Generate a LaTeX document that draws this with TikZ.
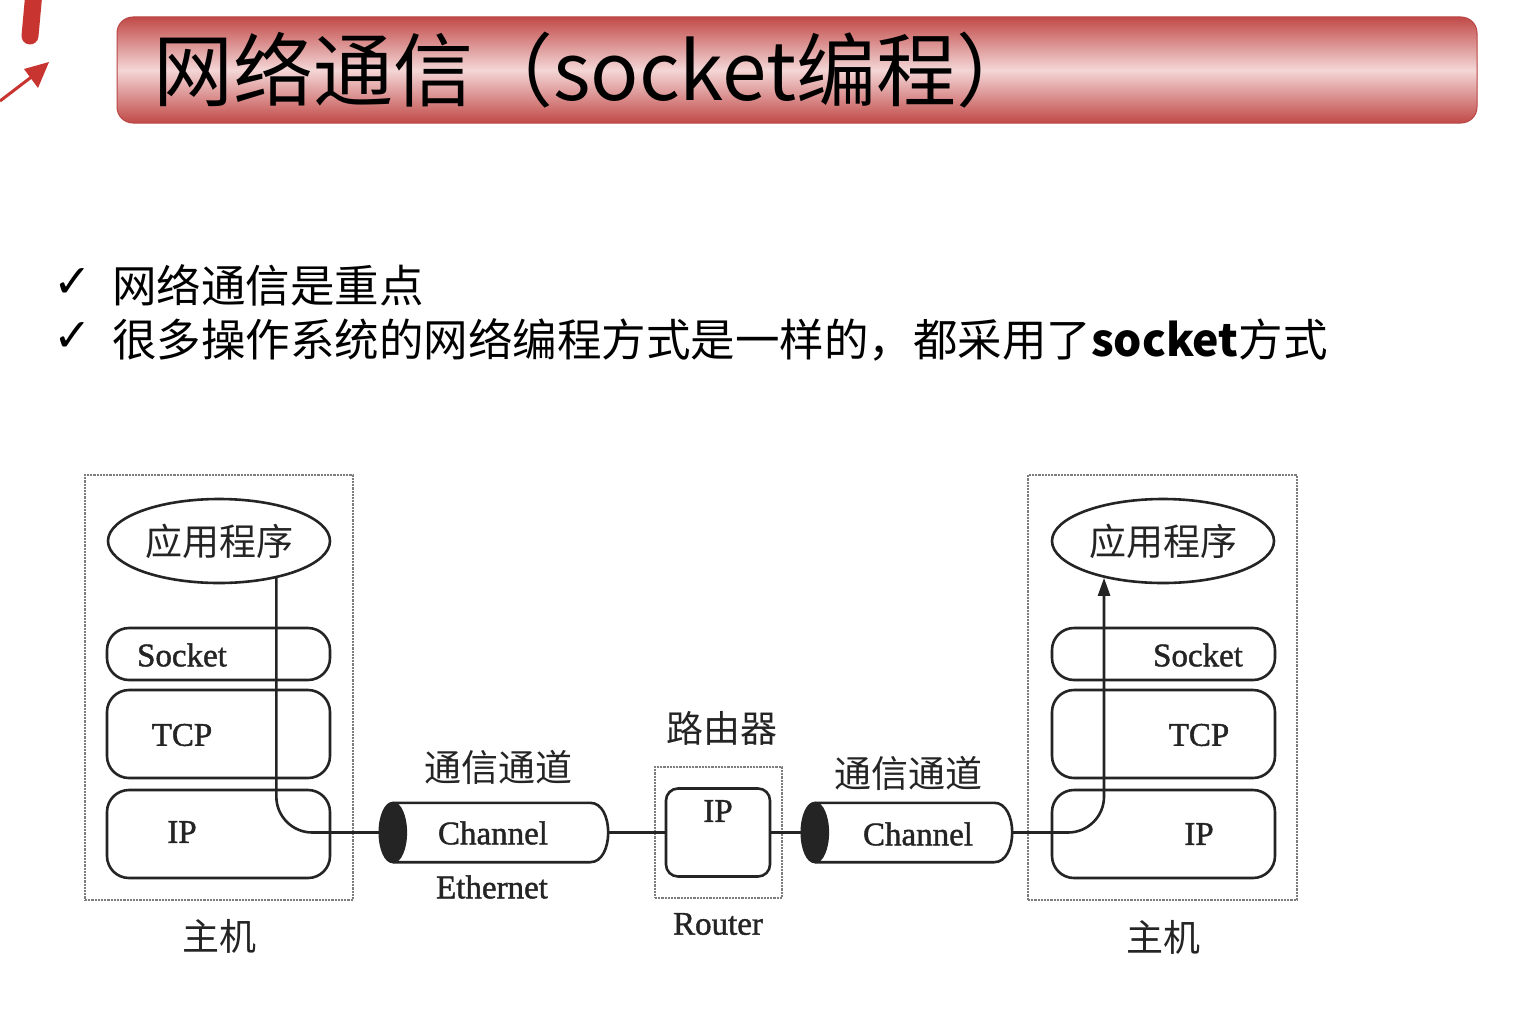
\documentclass[tikz,border=0pt]{standalone}
\usepackage{fontspec}
\setmainfont{Liberation Serif}
\newfontfamily\lblfont[FakeBold=1.3]{Liberation Serif}
\newfontfamily\cjk{Noto Sans CJK SC}
\newfontfamily\dejavu{DejaVu Sans}
\usetikzlibrary{arrows.meta,calc,shapes.geometric}
\definecolor{tred}{RGB}{192,74,72}
\definecolor{tpink}{RGB}{244,214,214}
\definecolor{tborder}{RGB}{185,70,68}
\definecolor{lnc}{RGB}{36,36,36}
\definecolor{dotc}{RGB}{125,125,125}
\definecolor{mred}{RGB}{200,52,48}
\tikzset{
  layer/.style={draw=lnc, line width=2.6pt, rounded corners=22pt, minimum width=223pt, inner sep=0pt},
  app/.style={ellipse, draw=lnc, line width=2.6pt, minimum width=222pt, minimum height=84pt, inner sep=0pt, text=lnc, font=\cjk\fontsize{37}{40}\selectfont},
  hostbox/.style={draw=dotc, densely dotted, line width=2.2pt, inner sep=0pt},
  lbl/.style={font=\lblfont\fontsize{33}{36}\selectfont, text=lnc},
  cjklbl/.style={font=\cjk\fontsize{37}{40}\selectfont, text=lnc},
  conn/.style={draw=lnc, line width=2.6pt},
  chan/.style={inner sep=0pt, minimum height=59pt},
  bullet/.style={anchor=west, inner sep=0pt, font=\cjk\fontsize{44.5}{48}\selectfont},
  check/.style={inner sep=0pt, font=\dejavu\fontsize{46}{48}\selectfont}
}
\begin{document}
\begin{tikzpicture}[x=1pt,y=-1pt]
\useasboundingbox[fill=white] (0,0) rectangle (1536,1025);

% red decoration
\draw[mred, line width=17pt, line cap=round] (34,-8) -- (30,36);
\draw[mred, line width=3pt] (0,101) -- (34,75);
\fill[mred] (49,62) -- (24,69) -- (38,88) -- cycle;

% title bar
\node[draw=tborder, line width=1pt, rounded corners=16pt, top color=tred, bottom color=tred, middle color=tpink,
      minimum width=1360pt, minimum height=106pt, inner sep=0pt] (bar) at (797,70) {};
\node[anchor=west, inner sep=0pt, font=\cjk\fontsize{80}{82}\selectfont] (title) at (153,70) {网络通信（socket编程）};

% bullets
\node[check] (c1) at (73,283) {✓};
\node[bullet] (b1) at (112,285) {网络通信是重点};
\node[check] (c2) at (73,337) {✓};
\node[bullet] (b2) at (112,340) {很多操作系统的网络编程方式是一样的，都采用了{\bfseries socket}方式};

% left host
\node[hostbox, minimum width=268pt, minimum height=425pt] (h1) at (219,687.5) {};
\node[app] (app1) at (219,541) {应用程序};
\node[layer, minimum height=52pt] (s1) at (218.5,654) {};
\node[lbl] (s1t) at (182,655) {Socket};
\node[layer, minimum height=88pt] (t1) at (218.5,734) {};
\node[lbl] (t1t) at (182,735) {TCP};
\node[layer, minimum height=88pt] (i1) at (218.5,834) {};
\node[lbl] (i1t) at (182,832) {IP};
\node[cjklbl] (m1) at (219,936) {主机};

% channel 1
\node[chan, minimum width=228pt] (ch1) at (494,832.5) {};
\node[cjklbl] (ch1c) at (498,767) {通信通道};
\node[lbl] (eth) at (492,887) {Ethernet};

% router
\node[hostbox, minimum width=127pt, minimum height=131pt] (r) at (718.5,832.5) {};
\node[layer, minimum width=104pt, minimum height=88pt, rounded corners=12pt] (rip) at (718,832.5) {};
\node[lbl] (ript) at (718,811) {IP};
\node[cjklbl] (rc) at (722,728) {路由器};
\node[lbl] (rt) at (718,924) {Router};

% channel 2
\node[chan, minimum width=210pt] (ch2) at (907,832.5) {};
\node[cjklbl] (ch2c) at (908,773) {通信通道};

% right host
\node[hostbox, minimum width=269pt, minimum height=425pt] (h2) at (1162.5,687.5) {};
\node[app] (app2) at (1163,541) {应用程序};
\node[layer, minimum height=52pt] (s2) at (1163.5,654) {};
\node[lbl] (s2t) at (1198,655) {Socket};
\node[layer, minimum height=88pt] (t2) at (1163.5,734) {};
\node[lbl] (t2t) at (1199,735) {TCP};
\node[layer, minimum height=88pt] (i2) at (1163.5,834) {};
\node[lbl] (i2t) at (1199,834) {IP};
\node[cjklbl] (m2) at (1163,937) {主机};

% connectors
\draw[conn, rounded corners=36pt] (app1.-33) |- (ch1.west);
\draw[conn] (ch1.east) -- (rip.west);
\draw[conn] (rip.east) -- (ch2.west);
\draw[conn, rounded corners=36pt, -{Triangle[length=18pt,width=12pt]}] (ch2.east) -| (app2.-148);

% cylinders
\foreach \c in {ch1,ch2}{
  \draw[conn, fill=white] ($(\c.north west)+(13,0)$) -- ($(\c.north east)+(-18,0)$)
     .. controls ($(\c.north east)+(6,0)$) and ($(\c.south east)+(6,0)$) .. ($(\c.south east)+(-18,0)$)
     -- ($(\c.south west)+(13,0)$);
  \filldraw[lnc, line width=2.6pt] ($(\c.west)+(13,0)$) ellipse [x radius=13pt, y radius=29.5pt];
}
\node[lbl] (ch1t) at (493,833) {Channel};
\node[lbl] (ch2t) at (918,834) {Channel};
\end{tikzpicture}
\end{document}
